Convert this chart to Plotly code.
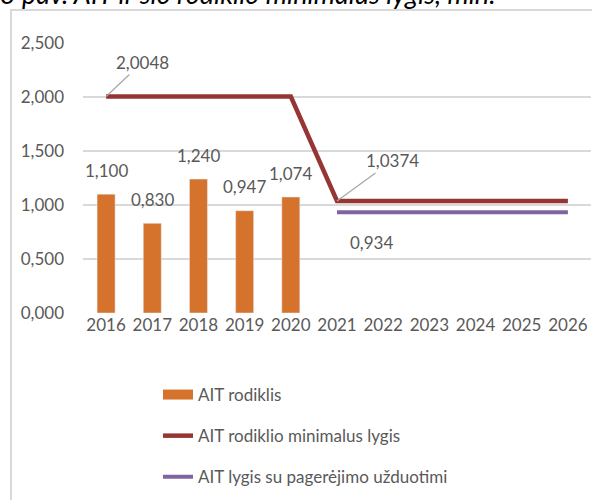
import plotly.graph_objects as go

# data
years = [str(y) for y in range(2016, 2027)]
ait_values = [1.100, 0.830, 1.240, 0.947, 1.074]
min_level = [2.0048] * 5 + [1.0374] * 6
target_level = [None] * 5 + [0.934] * 6

series_names = ["AIT rodiklis", "AIT rodiklio minimalus lygis", "AIT lygis su pagerėjimo užduotimi"]
title_text = "3 pav. AIT ir šio rodiklio minimalus lygis, min."

FONT = "Lato"
GREY = "#595959"
ORANGE = "#D5732D"

W, H = 592, 500
ML, MR, MT, MB = 83, 1, 43, 187
pw = W - ML - MR
ph = H - MT - MB


def px_x(p):
    return (p - ML) / pw


def px_y(p):
    return (H - MB - p) / ph


def fmt(v, nd):
    return f"{v:.{nd}f}".replace(".", ",")


fig = go.Figure()

fig.add_trace(go.Bar(
    x=years[:len(ait_values)], y=ait_values, name=series_names[0],
    marker=dict(color=ORANGE), width=0.39, showlegend=False,
))
# wide swatch for the bar series in the legend
fig.add_trace(go.Scatter(
    x=[None], y=[None], name=series_names[0], mode="lines",
    line=dict(color=ORANGE, width=10), legendgroup="a",
))
fig.add_trace(go.Scatter(
    x=years, y=min_level, name=series_names[1], mode="lines",
    line=dict(color="#963634", width=4.5), legendgroup="b",
))
fig.add_trace(go.Scatter(
    x=years, y=target_level, name=series_names[2], mode="lines",
    line=dict(color="#8064A2", width=4), legendgroup="c",
))

lab_font = dict(family=FONT, size=17, color=GREY)
annotations = []
for i, v in enumerate(ait_values):
    annotations.append(dict(
        x=i, y=v, text=fmt(v, 3), showarrow=False, yshift=24, font=lab_font,
    ))

# line labels
annotations.append(dict(
    x=0, y=min_level[0], text=fmt(min_level[0], 4), showarrow=True,
    arrowhead=0, arrowwidth=1.2, arrowcolor="#A6A6A6", ax=36, ay=-34, font=lab_font,
))
annotations.append(dict(
    x=5, y=min_level[5], text=fmt(min_level[5], 4), showarrow=True,
    arrowhead=0, arrowwidth=1.2, arrowcolor="#A6A6A6", ax=55, ay=-40, font=lab_font,
))
annotations.append(dict(
    x=5, y=target_level[5], text=fmt(target_level[5], 3), showarrow=False,
    xshift=34, yshift=-30, font=lab_font,
))

# cropped title
annotations.append(dict(
    xref="paper", yref="paper", x=px_x(-2), y=px_y(12), xanchor="left", yanchor="bottom",
    text="<i>" + title_text + "</i>", showarrow=False,
    font=dict(family=FONT, size=27, color="#000000"),
))

fig.update_layout(
    width=W, height=H,
    margin=dict(l=ML, r=MR, t=MT, b=MB, autoexpand=False),
    paper_bgcolor="white", plot_bgcolor="white",
    separators=",.",
    font=dict(family=FONT, size=17, color=GREY),
    showlegend=True,
    legend=dict(
        orientation="v", x=px_x(158), y=px_y(377), xanchor="left", yanchor="top",
        traceorder="grouped", tracegroupgap=16,
        font=dict(family=FONT, size=17, color=GREY),
    ),
    annotations=annotations,
    shapes=[dict(
        type="rect", xref="paper", yref="paper",
        x0=px_x(11), x1=px_x(700), y0=px_y(700), y1=px_y(10),
        line=dict(color="#D9D9D9", width=2),
    )],
)
fig.update_xaxes(
    type="category", categoryorder="array", categoryarray=years,
    range=[-0.5, len(years) - 0.5], automargin=False,
    showgrid=False, showline=False, zeroline=False,
    tickfont=dict(family=FONT, size=17, color=GREY), ticks="",
)
fig.update_yaxes(
    range=[0, 2.5], dtick=0.5, tickformat=".3f", automargin=False,
    showgrid=True, gridcolor="#D9D9D9", gridwidth=1.5, zeroline=False,
    showline=False, ticklabelstandoff=18,
    tickfont=dict(family=FONT, size=17, color=GREY),
)

fig.write_html(
    "out.html",
    config={"displayModeBar": False},
    post_script="document.body.style.margin='0';",
)
